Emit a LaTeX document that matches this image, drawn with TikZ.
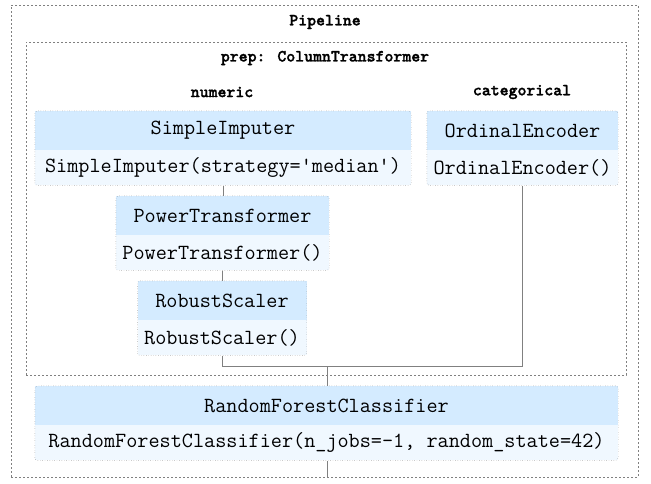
\documentclass[tikz,border=0pt]{standalone}
\usepackage{fontspec}
\newfontfamily\lblface{lmmonolt10-bold.otf}[FakeBold=1.5]
\usetikzlibrary{positioning,fit}
\definecolor{headblue}{RGB}{212,235,255}
\definecolor{parblue}{RGB}{240,248,255}
\definecolor{edgegray}{RGB}{128,128,128}
\newcommand{\boxfont}{\ttfamily\fontsize{21.6}{24}\selectfont}
\newcommand{\lblfont}{\lblface\fontsize{17}{20}\selectfont}

\begin{document}
\begin{tikzpicture}[x=1pt,y=-1pt,
  head/.style={fill=headblue, inner sep=0pt, font=\boxfont, minimum height=39pt},
  par/.style={fill=parblue, inner sep=0pt, font=\boxfont, minimum height=35pt, anchor=north},
  frame/.style={draw=edgegray, dotted, rounded corners=3pt, inner sep=0pt},
  cluster/.style={draw=edgegray, dash pattern=on 2pt off 2pt, inner sep=0pt},
  lbl/.style={font=\lblfont},
  conn/.style={draw=edgegray, line width=1pt}]
\useasboundingbox (0,0) rectangle (651,483);

% dashed containers
\node[cluster, minimum width=627pt, minimum height=472pt] (pipe) at (324.5,241) {};
\node[lbl] (pipelbl) at (325,22) {Pipeline};
\node[cluster, minimum width=600pt, minimum height=333pt] (prep) at (326,208.5) {};
\node[lbl] (preplbl) at (325,58) {prep: ColumnTransformer};
\node[lbl] (numlbl) at (222,92) {numeric};
\node[lbl] (catlbl) at (522,92) {categorical};

% numeric branch
\node[head, minimum width=376pt] (sihead) at (223,130.5) {SimpleImputer};
\node[par, minimum width=376pt] (sipar) at (sihead.south) {SimpleImputer(strategy=\textquotesingle median\textquotesingle)};
\node[frame, fit=(sihead)(sipar)] (si) {};

\node[head, minimum width=213pt] (pthead) at (222.5,215.5) {PowerTransformer};
\node[par, minimum width=213pt] (ptpar) at (pthead.south) {PowerTransformer()};
\node[frame, fit=(pthead)(ptpar)] (pt) {};

\node[head, minimum width=169pt] (rshead) at (222,300.5) {RobustScaler};
\node[par, minimum width=169pt] (rspar) at (rshead.south) {RobustScaler()};
\node[frame, fit=(rshead)(rspar)] (rs) {};

% categorical branch
\node[head, minimum width=191pt] (oehead) at (522.5,130.5) {OrdinalEncoder};
\node[par, minimum width=191pt] (oepar) at (oehead.south) {OrdinalEncoder()};
\node[frame, fit=(oehead)(oepar)] (oe) {};

% classifier
\node[head, minimum width=583pt] (rfhead) at (326.5,405.5) {RandomForestClassifier};
\node[par, minimum width=583pt] (rfpar) at (rfhead.south) {RandomForestClassifier(n\_jobs=-1, random\_state=42)};
\node[frame, fit=(rfhead)(rfpar)] (rf) {};

% connectors
\coordinate (join) at (327,366);
\draw[conn] (si.south) -- (si.south |- pt.north);
\draw[conn] (pt.south) -- (pt.south |- rs.north);
\draw[conn] (rs.south) |- (oe.south |- join) -- (oe.south);
\draw[conn] (join) -- (join |- rf.north);
\draw[conn] (rf.south -| join) -- (join |- pipe.south);
\end{tikzpicture}
\end{document}
